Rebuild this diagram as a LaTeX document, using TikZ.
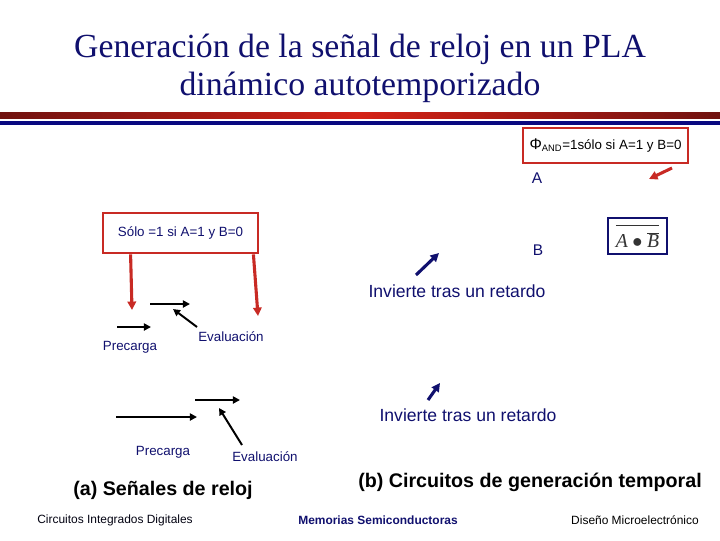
\documentclass[tikz,border=0pt]{standalone}
\usepackage{fontspec}
\setmainfont{Liberation Serif}
\setsansfont{Liberation Sans}
\usetikzlibrary{arrows.meta,positioning}
\definecolor{navy}{RGB}{16,16,110}
\definecolor{boxred}{RGB}{200,42,36}
\definecolor{bardark}{RGB}{112,18,16}
\definecolor{barbright}{RGB}{212,34,22}
\definecolor{barblue}{RGB}{8,8,128}

\tikzset{
  lbl/.style={font=\sffamily\fontsize{9.5}{11}\selectfont, text=navy, inner sep=1pt},
  biglbl/.style={font=\sffamily\fontsize{12.5}{14}\selectfont, text=navy, inner sep=1pt},
  letter/.style={font=\sffamily\fontsize{11}{13}\selectfont, text=navy, inner sep=1pt},
  caption/.style={font=\sffamily\bfseries\fontsize{14}{16}\selectfont, inner sep=1pt},
  foot/.style={font=\sffamily\fontsize{8.5}{10}\selectfont, inner sep=1pt},
  redbox/.style={draw=boxred, line width=2pt, inner sep=0pt},
  redarr/.style={draw=boxred, line width=2.2pt, -{Triangle[length=6pt,width=6pt]}},
  bluearr/.style={draw=navy, line width=2.2pt, -{Triangle[length=6pt,width=6pt]}},
  blkarr/.style={draw=black, line width=1.4pt, -{Triangle[length=5pt,width=5pt]}},
}

\begin{document}
\begin{tikzpicture}[x=0.025cm,y=-0.025cm]
  \useasboundingbox (0,0) rectangle (720,540);
  % title and bars
  \node[font=\fontsize{24}{28}\selectfont, text=navy, anchor=base] (tit1) at (360,57) {Generación de la señal de reloj en un PLA};
  \node[font=\fontsize{24}{28}\selectfont, text=navy, anchor=base] (tit2) at (360,95) {dinámico autotemporizado};
  \shade[left color=bardark, right color=bardark, middle color=barbright] (0,112) rectangle (720,118);
  \fill[barblue] (0,121) rectangle (720,125);

  % right column
  \node[redbox, minimum width=4.125cm, minimum height=0.875cm, font=\sffamily\fontsize{9.5}{11}\selectfont] (phi) at (605.5,145.5) {{\fontsize{11}{11}\selectfont Φ}\textsubscript{AND}=1sólo si A=1 y B=0};
  \node[letter] (a) at (537,178) {A};
  \node[letter] (b) at (538,250) {B};
  \coordinate (pa) at (672,168); \coordinate (pb) at (649,179);
  \draw[redarr] (pa) -- (pb);
  \node[draw=navy, line width=2pt, minimum width=1.475cm, minimum height=0.9cm, inner sep=0pt, text=black!80, font=\fontsize{14}{16}\selectfont] (nand) at (637.5,236)
    {$\overline{\mbox{\itshape A}\bullet\overline{\mbox{\itshape B}}\rule{0pt}{1.05em}}$};

  % inverters
  \node[biglbl] (inv1) at (457,291) {Invierte tras un retardo};
  \node[biglbl] (inv2) at (468,415) {Invierte tras un retardo};
  \coordinate (i1a) at (416,275); \coordinate (i1b) at (439,253);
  \coordinate (i2a) at (428,400); \coordinate (i2b) at (440,383);
  \draw[bluearr] (i1a) -- (i1b);
  \draw[bluearr] (i2a) -- (i2b);

  % clock signals (a)
  \node[redbox, minimum width=3.875cm, minimum height=1cm, font=\sffamily\fontsize{9.5}{11}\selectfont, text=navy] (solo) at (180.5,233) {Sólo =1 si A=1 y B=0};
  \coordinate (r1) at (132,310); \coordinate (r2) at (258,316);
  \draw[redarr] ([xshift=0.725cm]solo.south west) -- (r1);
  \draw[redarr] ([xshift=-0.15cm]solo.south east) -- (r2);

  \node[lbl] (pre1) at (130,347) {Precarga};
  \node[lbl] (eva1) at (231,337) {Evaluación};
  \coordinate (p1a) at (117,327); \coordinate (p1b) at (151,327);
  \coordinate (e1a) at (150,304); \coordinate (e1b) at (190,304);
  \coordinate (t1a) at (197,327); \coordinate (t1b) at (173,309);
  \draw[blkarr] (p1a) -- (p1b);
  \draw[blkarr] (e1a) -- (e1b);
  \draw[blkarr] (t1a) -- (t1b);

  \node[lbl] (pre2) at (163,452) {Precarga};
  \node[lbl] (eva2) at (265,457) {Evaluación};
  \coordinate (p2a) at (116,417); \coordinate (p2b) at (197,417);
  \coordinate (e2a) at (195,400); \coordinate (e2b) at (240,400);
  \coordinate (t2a) at (242,445); \coordinate (t2b) at (219,408);
  \draw[blkarr] (p2a) -- (p2b);
  \draw[blkarr] (e2a) -- (e2b);
  \draw[blkarr] (t2a) -- (t2b);

  % captions and footer
  \node[caption] (capa) at (163,490) {(a) Señales de reloj};
  \node[caption] (capb) at (530,482) {(b) Circuitos de generación temporal};
  \node[foot, text=black!85!navy] (f1) at (115,520) {Circuitos Integrados Digitales};
  \node[foot, text=navy, font=\sffamily\bfseries\fontsize{8.5}{10}\selectfont] (f2) at (378,520) {Memorias Semiconductoras};
  \node[foot] (f3) at (635,520) {Diseño Microelectrónico};
\end{tikzpicture}
\end{document}
